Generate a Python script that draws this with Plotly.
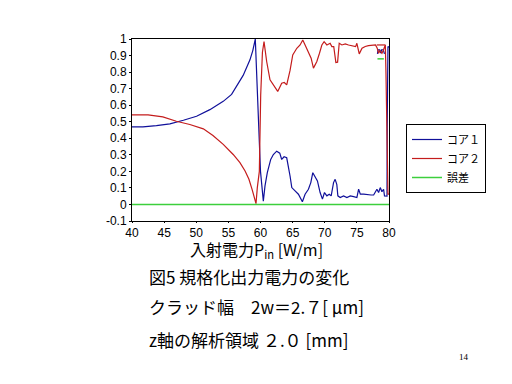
import plotly.graph_objects as go

# ---- data ----
core1_x = [40, 41.7, 43.8, 45.9, 48, 50.05, 52.12, 54.2, 55.5, 56.29, 57.3, 58.36, 58.8, 59.19,
           59.5, 59.82, 60.0, 60.44, 60.7, 61.06, 61.59, 62.0, 62.52, 63.0, 63.3, 63.67, 64.08,
           64.6, 64.87, 65.38, 65.9, 66.52, 66.94, 67.46, 67.83, 68.14, 68.5, 68.86, 69.28,
           69.64, 69.96, 70.33, 70.7, 71.0, 71.37, 71.62, 71.88, 72.04, 72.4, 72.93, 73.45,
           73.97, 74.5, 75.0, 75.27, 75.54, 76.06, 76.68, 77.2, 77.61, 78.12, 78.38, 78.64,
           78.9, 79.16, 79.3, 79.69, 79.72, 79.84, 80,
           None, 78.2, 78.3, 78.55, 78.7, 78.85, 79.1, 79.3]
core1_y = [0.469, 0.469, 0.477, 0.487, 0.509, 0.533, 0.573, 0.623, 0.665, 0.713, 0.78, 0.874, 0.93, 1.0,
           0.7, 0.38, 0.2, 0.02, 0.112, 0.192, 0.272, 0.302, 0.322, 0.31, 0.272, 0.288, 0.282,
           0.172, 0.102, 0.082, 0.062, 0.016, 0.062, 0.092, 0.132, 0.192, 0.162, 0.142, 0.072,
           0.032, 0.072, 0.052, 0.062, 0.052, 0.132, 0.152, 0.12, 0.052, 0.042, 0.052, 0.042,
           0.052, 0.047, 0.042, 0.092, 0.062, 0.062, 0.057, 0.057, 0.057, 0.092, 0.072, 0.102,
           0.077, 0.092, 0.052, 0.05, 0.46, 0.954, 0.95,
           None, 0.91, 0.935, 0.935, 0.915, 0.935, 0.935, 0.91]

core2_x = [40, 42.5, 44.8, 46.9, 49.0, 51.1, 52.6, 54.2, 55.75, 56.8, 57.6, 58.2, 58.7, 59.0, 59.3,
           59.5, 59.82, 60.03, 60.3, 60.55, 60.96, 61.48, 62.0, 62.68, 63.3, 63.7, 64.08, 64.6,
           65.02, 65.65, 66.16, 66.58, 66.94, 67.46, 67.88, 68.24, 68.77, 69.18, 69.55, 69.9,
           70.33, 70.84, 71.1, 71.4, 71.73, 72.0, 72.25, 72.67, 73.2, 73.7, 74.3, 74.8, 75.0,
           75.37, 75.8, 76.3, 76.8, 77.35, 77.9, 78.17, 78.38, 78.6, 78.9, 79.1, 79.43, 79.53,
           79.84, 80,
           None, 78.1, 79.45]
core2_y = [0.541, 0.541, 0.529, 0.503, 0.483, 0.457, 0.417, 0.363, 0.302, 0.253, 0.202, 0.152, 0.09, 0.04, 0.005,
           0.1, 0.2, 0.66, 0.92, 0.984, 0.864, 0.753, 0.723, 0.683, 0.733, 0.737, 0.723, 0.81,
           0.904, 0.944, 0.964, 0.994, 0.964, 0.924, 0.884, 0.824, 0.864, 0.914, 0.964, 0.984,
           0.964, 0.974, 0.954, 0.954, 0.858, 0.86, 0.974, 0.964, 0.97, 0.964, 0.958, 0.954, 0.974,
           0.91, 0.944, 0.955, 0.96, 0.964, 0.964, 0.944, 0.914, 0.93, 0.914, 0.93, 0.964, 0.79,
           0.062, 0.062,
           None, 0.964, 0.964]

error_x = [40, 80, None, 78.2, 79.2]
error_y = [0, 0, None, 0.88, 0.88]

x_ticks = [40, 45, 50, 55, 60, 65, 70, 75, 80]
y_ticks = [-0.1, 0, 0.1, 0.2, 0.3, 0.4, 0.5, 0.6, 0.7, 0.8, 0.9, 1]
y_tick_text = ["-0.1", "0", "0.1", "0.2", "0.3", "0.4", "0.5", "0.6", "0.7", "0.8", "0.9", "1"]

series_names = ["コア１", "コア２", "誤差"]
x_title = "入射電力P<sub>in</sub> [W/m]"
caption_lines = ["図5 規格化出力電力の変化",
                 "クラッド幅　2w＝2.７[ μm]",
                 "z軸の解析領域 ２.０ [mm]"]
page_number = "14"

# ---- layout helpers (screen pixel -> paper coords of plot area) ----
OFF = 8  # page body margin
W, H = 512, 384
L, R, T, B = 132, 389, 39, 221  # plot box in screen pixels
def px(x):
    return (x - L) / (R - L)
def py(y):
    return (B - y) / (B - T)

fig = go.Figure()
fig.add_trace(go.Scatter(x=core1_x, y=core1_y, mode="lines", name=series_names[0],
                         line=dict(color="#10109a", width=1.2), connectgaps=False))
fig.add_trace(go.Scatter(x=core2_x, y=core2_y, mode="lines", name=series_names[1],
                         line=dict(color="#c41c1c", width=1.2), connectgaps=False))
fig.add_trace(go.Scatter(x=error_x, y=error_y, mode="lines", name=series_names[2],
                         line=dict(color="#3ccf3c", width=1.5), connectgaps=False))

jp = "Noto Sans CJK JP"
annotations = []
caption_y = [276, 306, 339]
for txt, yy in zip(caption_lines, caption_y):
    annotations.append(dict(text=txt, xref="paper", yref="paper", x=px(147), y=py(yy),
                            xanchor="left", yanchor="middle", showarrow=False,
                            font=dict(family=jp, size=17, color="black")))
annotations.append(dict(text=page_number, xref="paper", yref="paper", x=px(464), y=py(357),
                        xanchor="center", yanchor="middle", showarrow=False,
                        font=dict(family="Liberation Serif", size=9, color="black")))
annotations.append(dict(text=x_title, xref="paper", yref="paper",
                        x=px(256), y=py(250), xanchor="center", yanchor="middle", showarrow=False,
                        font=dict(family=jp, size=16, color="black")))

fig.update_layout(
    width=W, height=H,
    margin=dict(l=L - OFF, r=W - R + OFF, t=T - OFF, b=H - B + OFF, autoexpand=False),
    paper_bgcolor="white", plot_bgcolor="white",
    showlegend=True,
    legend=dict(x=px(406), y=py(124), xanchor="left", yanchor="top",
                bordercolor="black", borderwidth=1, bgcolor="white",
                font=dict(family=jp, size=11, color="black"),
                tracegroupgap=0, itemwidth=30),
    annotations=annotations,
    font=dict(family="Liberation Sans", size=12, color="black"),
)
fig.update_xaxes(range=[40, 80], tickvals=x_ticks, showgrid=False, zeroline=False,
                 showline=True, linecolor="black", linewidth=1, mirror=True,
                 ticks="outside", ticklen=1, tickcolor="black",
                 tickfont=dict(family="Liberation Sans", size=12, color="black"))
fig.update_yaxes(range=[-0.1, 1], tickvals=y_ticks, ticktext=y_tick_text, showgrid=False,
                 zeroline=False, showline=True, linecolor="black", linewidth=1, mirror=True,
                 ticks="outside", ticklen=2, tickcolor="black",
                 tickfont=dict(family="Liberation Sans", size=12, color="black"))

fig.write_html("out.html")
